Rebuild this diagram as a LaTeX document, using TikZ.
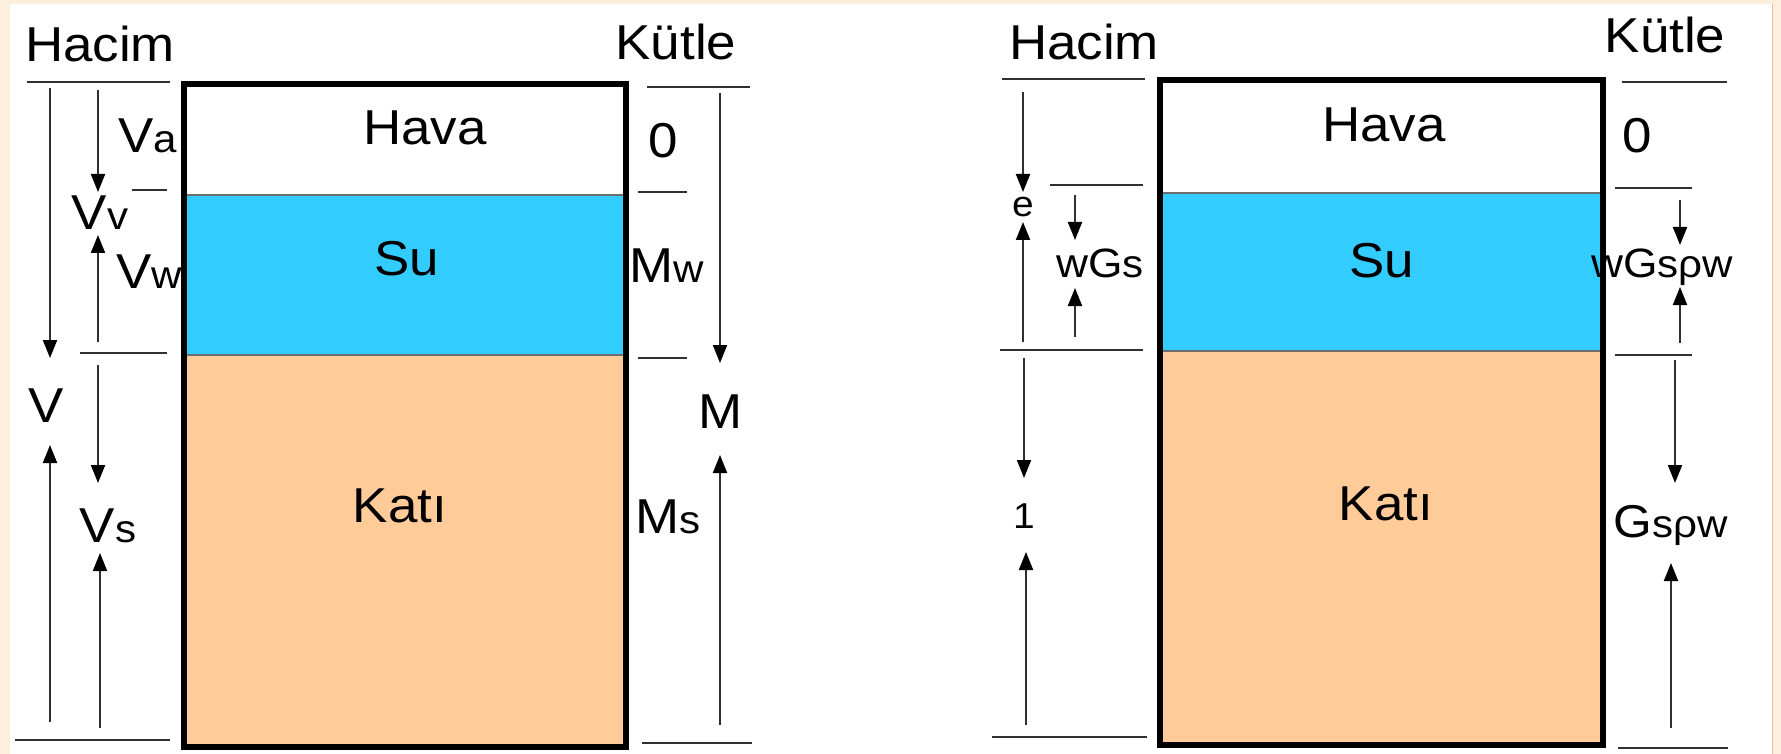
\documentclass[tikz,border=0pt]{standalone}
\usepackage{fontspec}
\usepackage{graphicx}
\setmainfont{Liberation Sans}
\usetikzlibrary{arrows.meta}
\definecolor{bgbeige}{HTML}{FCEFDB}
\definecolor{waterc}{HTML}{33CCFF}
\definecolor{solidc}{HTML}{FFCC99}
\definecolor{linegray}{HTML}{303030}
\definecolor{edgepink}{HTML}{F2B8B8}
\newcommand{\sm}[1]{{\fontsize{39}{40}\selectfont #1}}
\newcommand{\sx}[1]{\scalebox{1.08}[1]{#1}}
\tikzset{
  lbl/.style={font=\fontsize{49}{50}\selectfont, inner sep=0pt, anchor=base},
  lblm/.style={font=\fontsize{41}{42}\selectfont, inner sep=0pt, anchor=base},
  dimarrow/.style={line width=2pt, draw=linegray, -{Triangle[length=18pt,width=14pt,fill=black,color=black]}},
  tickline/.style={line width=2pt, draw=linegray},
  boxline/.style={line width=5.5pt, draw=black},
  layerline/.style={line width=1.5pt, draw=linegray!70}
}
\begin{document}
\begin{tikzpicture}[x=1pt,y=-1pt]
\useasboundingbox (0,0) rectangle (1781,754);
\fill[bgbeige] (0,0) rectangle (1781,754);
\fill[white] (10,4) rectangle (1772,754);
\draw[edgepink, line width=0.8pt] (1772,4) -- (1772,754);

% ---------- LEFT DIAGRAM ----------
\fill[waterc] (184,195) rectangle (626,355);
\fill[solidc] (184,355) rectangle (626,747);
\draw[layerline] (184,195) -- (626,195);
\draw[layerline] (184,355) -- (626,355);
\draw[boxline] (184,84) rectangle (626,747);
\node[lbl] (haval) at (425,145) {\sx{Hava}};
\node[lbl] (sul) at (407,276) {\sx{Su}};
\node[lbl] (katil) at (400,522) {\sx{Katı}};

\node[lbl] (hacimL) at (100,62) {\sx{Hacim}};
\node[lbl] (kutleL) at (676,60) {\sx{Kütle}};

\draw[tickline] (27,82) -- (170,82);
\draw[tickline] (132,190) -- (167,190);
\draw[tickline] (80,353) -- (167,353);
\draw[tickline] (15,740) -- (170,740);
\draw[tickline] (647,87) -- (750,87);
\draw[tickline] (638,192) -- (687,192);
\draw[tickline] (638,358) -- (687,358);
\draw[tickline] (642,743) -- (752,743);

\coordinate (v1) at (50,88);   \coordinate (v2) at (50,358);
\coordinate (v3) at (50,722);  \coordinate (v4) at (50,445);
\draw[dimarrow] (v1) -- (v2);
\draw[dimarrow] (v3) -- (v4);
\coordinate (a1) at (98,90);   \coordinate (a2) at (98,192);
\coordinate (a3) at (98,342);  \coordinate (a4) at (98,235);
\draw[dimarrow] (a1) -- (a2);
\draw[dimarrow] (a3) -- (a4);
\coordinate (s1) at (98,365);  \coordinate (s2) at (98,483);
\coordinate (s3) at (100,728); \coordinate (s4) at (100,553);
\draw[dimarrow] (s1) -- (s2);
\draw[dimarrow] (s3) -- (s4);
\coordinate (m1) at (720,93);  \coordinate (m2) at (720,363);
\coordinate (m3) at (720,725); \coordinate (m4) at (720,455);
\draw[dimarrow] (m1) -- (m2);
\draw[dimarrow] (m3) -- (m4);

\node[lbl] (Va) at (148,153) {\sx{V\sm{a}}};
\node[lbl] (Vv) at (100,230) {\sx{V\sm{v}}};
\node[lbl] (Vw) at (149,288) {\sx{V\sm{w}}};
\node[lbl] (V) at (46,422) {\sx{V}};
\node[lbl] (Vs) at (108,542) {\sx{V\sm{s}}};
\node[lbl] (zeroL) at (663,158) {\sx{0}};
\node[lbl] (Mw) at (667,283) {\sx{M\sm{w}}};
\node[lbl] (M) at (721,428) {\sx{M}};
\node[lbl] (Ms) at (668,533) {\sx{M\sm{s}}};

% ---------- RIGHT DIAGRAM ----------
\fill[waterc] (1160,193) rectangle (1603,351);
\fill[solidc] (1160,351) rectangle (1603,745);
\draw[layerline] (1160,193) -- (1603,193);
\draw[layerline] (1160,351) -- (1603,351);
\draw[boxline] (1160,80) rectangle (1603,745);
\node[lbl] (havar) at (1384,142) {\sx{Hava}};
\node[lbl] (sur) at (1382,277) {\sx{Su}};
\node[lbl] (katir) at (1386,520) {\sx{Katı}};

\node[lbl] (hacimR) at (1084,60) {\sx{Hacim}};
\node[lbl] (kutleR) at (1665,53) {\sx{Kütle}};

\draw[tickline] (1002,79) -- (1145,79);
\draw[tickline] (1050,185) -- (1143,185);
\draw[tickline] (1000,350) -- (1143,350);
\draw[tickline] (992,737) -- (1147,737);
\draw[tickline] (1622,82) -- (1727,82);
\draw[tickline] (1615,188) -- (1692,188);
\draw[tickline] (1615,355) -- (1692,355);
\draw[tickline] (1618,748) -- (1728,748);

\coordinate (e1) at (1023,92);  \coordinate (e2) at (1023,192);
\coordinate (e3) at (1023,342); \coordinate (e4) at (1023,222);
\draw[dimarrow] (e1) -- (e2);
\draw[dimarrow] (e3) -- (e4);
\coordinate (w1) at (1075,195); \coordinate (w2) at (1075,240);
\coordinate (w3) at (1075,337); \coordinate (w4) at (1075,288);
\draw[dimarrow] (w1) -- (w2);
\draw[dimarrow] (w3) -- (w4);
\coordinate (o1) at (1024,358); \coordinate (o2) at (1024,478);
\coordinate (o3) at (1026,725); \coordinate (o4) at (1026,552);
\draw[dimarrow] (o1) -- (o2);
\draw[dimarrow] (o3) -- (o4);
\coordinate (r1) at (1680,200); \coordinate (r2) at (1680,245);
\coordinate (r3) at (1680,343); \coordinate (r4) at (1680,287);
\draw[dimarrow] (r1) -- (r2);
\draw[dimarrow] (r3) -- (r4);
\coordinate (g1) at (1675,360); \coordinate (g2) at (1675,483);
\coordinate (g3) at (1671,728); \coordinate (g4) at (1671,563);
\draw[dimarrow] (g1) -- (g2);
\draw[dimarrow] (g3) -- (g4);

\node[inner sep=0pt, anchor=base, font=\fontsize{36}{37}\selectfont] (e) at (1023,217) {\sx{e}};
\node[lblm] (wGs) at (1100,277) {\sx{wG\sm{s}}};
\node[inner sep=0pt, anchor=base, font=\fontsize{36}{37}\selectfont] (one) at (1024,528) {\sx{1}};
\node[lbl] (zeroR) at (1637,153) {\sx{0}};
\node[lblm] (wGsrw) at (1662,277) {\sx{wG\sm{sρw}}};
\node[font=\fontsize{46}{47}\selectfont, inner sep=0pt, anchor=base] (Gsrw) at (1671,537) {\sx{G\sm{sρw}}};
\end{tikzpicture}
\end{document}
